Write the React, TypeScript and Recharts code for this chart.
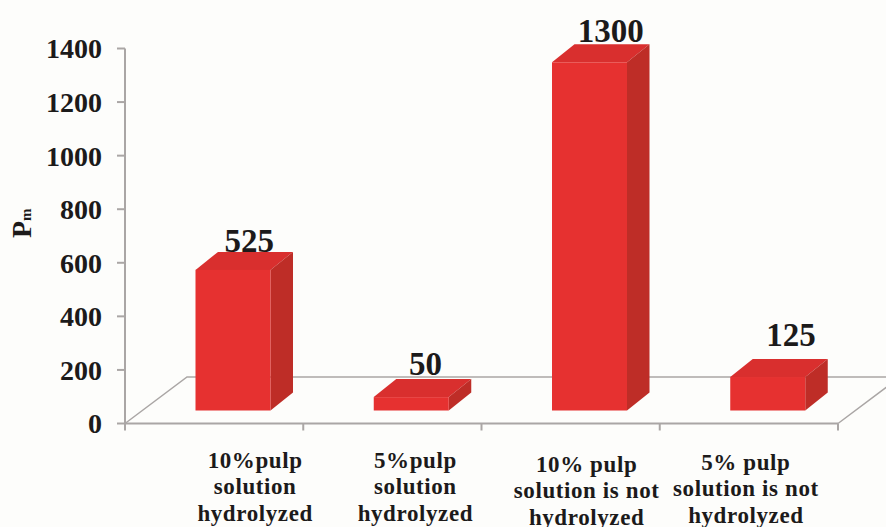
import { BarChart, Bar, XAxis, YAxis, Label, usePlotArea } from "recharts";

const categories = [
  "10%pulp\nsolution\nhydrolyzed",
  "5%pulp\nsolution\nhydrolyzed",
  "10% pulp\nsolution is not\nhydrolyzed",
  "5% pulp\nsolution is not\nhydrolyzed",
];
const pmValues = [525, 50, 1300, 125];
const yTicks = [0, 200, 400, 600, 800, 1000, 1200, 1400];

const data = categories.map((name, i) => ({ name, pm: pmValues[i] }));

const WIDTH = 886;
const HEIGHT = 527;
const MARGIN = { top: 48.5, right: 48, bottom: 0, left: 0 };
const Y_AXIS_WIDTH = 125;
const X_AXIS_HEIGHT = 103.5;
const BAND = (WIDTH - Y_AXIS_WIDTH - MARGIN.right) / categories.length;

const SERIF = "'Liberation Serif', serif";
const AXIS_COLOR = "#aaa6a5";
const TEXT_COLOR = "#1c1a1a";

// fake 3d: the floor is a sheared plane, bars sit part way back on it
const FLOOR_DX = 62;
const FLOOR_DY = 46.5;
const BAR_SHIFT_X = 18.5;
const BAR_SHIFT_Y = 13;
const BOX_DX = 22.5;
const BOX_DY = 18;

// per-column nudges for the hand placed captions
const captionOffsets = [
  { dx: 41, dy: 37 },
  { dx: 23, dy: 37 },
  { dx: 16, dy: 41 },
  { dx: -3, dy: 39 },
];
const valueLabelOffsets = [
  { dx: -1, dy: 0 },
  { dx: -3, dy: -4 },
  { dx: 4, dy: -2 },
  { dx: 6, dy: -13 },
];

function Floor() {
  const plot = usePlotArea();
  if (!plot) return null;
  const left = plot.x;
  const right = plot.x + plot.width;
  const bottom = plot.y + plot.height;
  const back = bottom - FLOOR_DY;
  return (
    <g stroke={AXIS_COLOR} strokeWidth={1.5} fill="none">
      <polyline
        points={`${left},${bottom} ${left + FLOOR_DX},${back} ${right + FLOOR_DX},${back} ${right},${bottom}`}
      />
    </g>
  );
}

function BoxBar(props: any) {
  const { x, y, width, height, index, payload } = props;
  const left = x + BAR_SHIFT_X;
  const right = left + width;
  const top = y - BAR_SHIFT_Y;
  const bottom = top + height;
  const offset = valueLabelOffsets[index];
  return (
    <g>
      <text
        x={right - width / 2 + BOX_DX / 2 + offset.dx + 6}
        y={top - BOX_DY + offset.dy}
        textAnchor="middle"
        fontFamily={SERIF}
        fontWeight="bold"
        fontSize={33}
        fill={TEXT_COLOR}
      >
        {payload.pm}
      </text>
      <polygon
        points={`${left},${top} ${left + BOX_DX},${top - BOX_DY} ${right + BOX_DX},${top - BOX_DY} ${right},${top}`}
        fill="#d92f2e"
      />
      <polygon
        points={`${right},${top} ${right + BOX_DX},${top - BOX_DY} ${right + BOX_DX},${bottom - BOX_DY} ${right},${bottom}`}
        fill="#be2d27"
      />
      <rect x={left} y={top} width={width} height={height} fill="#e63130" />
    </g>
  );
}

function CategoryTick(props: any) {
  const { x, y, index, payload } = props;
  const offset = captionOffsets[index];
  const lines = String(payload.value).split("\n");
  const edge = x - BAND / 2;
  return (
    <g>
      <line x1={edge} x2={edge} y1={y} y2={y + 7} stroke={AXIS_COLOR} strokeWidth={2} />
      {index === categories.length - 1 && (
        <line x1={edge + BAND} x2={edge + BAND} y1={y} y2={y + 7} stroke={AXIS_COLOR} strokeWidth={2} />
      )}
      <text
        x={x + offset.dx}
        y={y + offset.dy + 7}
        textAnchor="middle"
        fontFamily={SERIF}
        fontWeight="bold"
        fontSize={23}
        letterSpacing={0.6}
        fill={TEXT_COLOR}
      >
        {lines.map((line, i) => (
          <tspan key={line} x={x + offset.dx} dy={i === 0 ? 0 : 26.5}>
            {line}
          </tspan>
        ))}
      </text>
    </g>
  );
}

function PmLabel() {
  return (
    <text
      transform="translate(31,238) rotate(-90)"
      fontFamily={SERIF}
      fontWeight="bold"
      fontSize={28}
      fill={TEXT_COLOR}
    >
      P
      <tspan fontSize={15}>m</tspan>
    </text>
  );
}

export default function App() {
  return (
    <div
      style={{
        position: "absolute",
        left: 0,
        top: 0,
        width: WIDTH,
        height: HEIGHT,
        background: "#fdfdfb",
        overflow: "hidden",
      }}
    >
      <BarChart width={WIDTH} height={HEIGHT} data={data} margin={MARGIN} barSize={75}>
        <Floor />
        <XAxis
          dataKey="name"
          height={X_AXIS_HEIGHT}
          interval={0}
          tickLine={false}
          tickSize={0}
          tickMargin={0}
          tick={<CategoryTick />}
          axisLine={{ stroke: AXIS_COLOR, strokeWidth: 2 }}
        />
        <YAxis
          width={Y_AXIS_WIDTH}
          domain={[0, 1400]}
          ticks={yTicks}
          interval={0}
          tickSize={8}
          tickMargin={15}
          tickLine={{ stroke: AXIS_COLOR, strokeWidth: 2 }}
          axisLine={{ stroke: AXIS_COLOR, strokeWidth: 2 }}
          tick={{ fill: TEXT_COLOR, fontFamily: SERIF, fontWeight: "bold", fontSize: 28 }}
        >
          <Label content={<PmLabel />} />
        </YAxis>
        <Bar dataKey="pm" shape={<BoxBar />} isAnimationActive={false} />
      </BarChart>
    </div>
  );
}
